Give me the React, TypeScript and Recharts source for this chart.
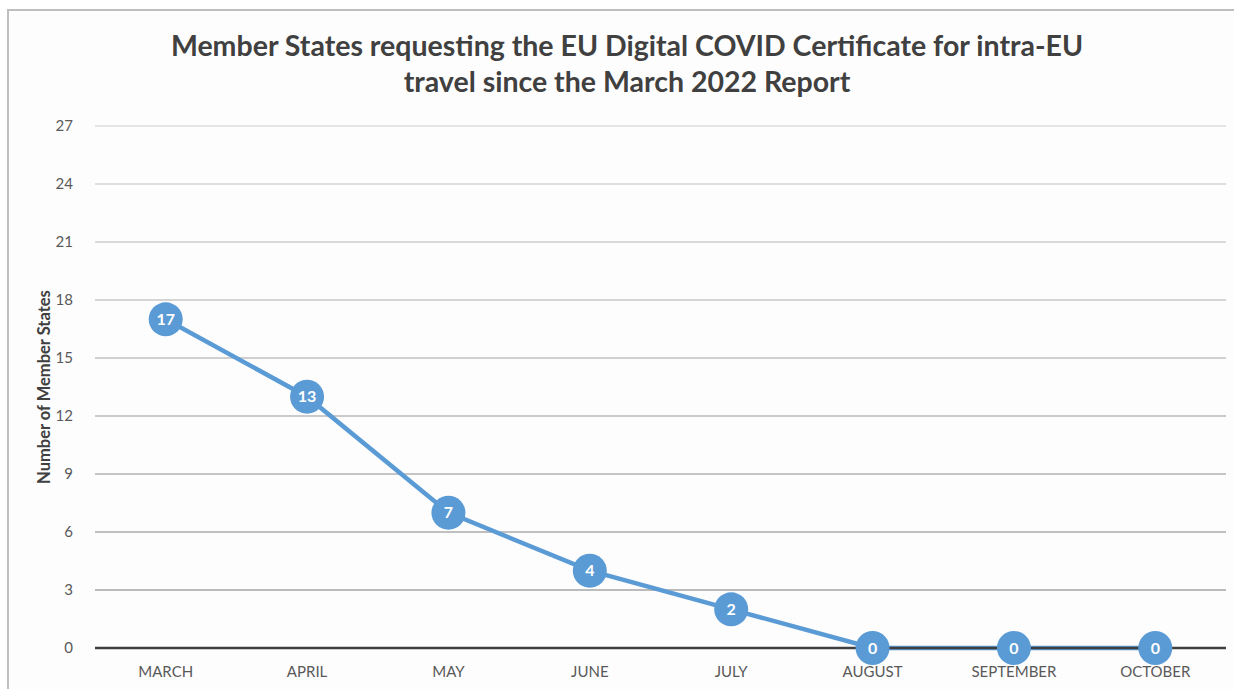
import { LineChart, Line, XAxis, YAxis, CartesianGrid, LabelList } from "recharts"

const months = ["MARCH", "APRIL", "MAY", "JUNE", "JULY", "AUGUST", "SEPTEMBER", "OCTOBER"]
const memberStates = [17, 13, 7, 4, 2, 0, 0, 0]
const yTicks = [0, 3, 6, 9, 12, 15, 18, 21, 24, 27]

const data = months.map((month, i) => ({ month, states: memberStates[i] }))

const FONT = "Lato, 'Open Sans', sans-serif"
const BLUE = "#5b9bd5"

function Marker(props: any) {
  const { cx, cy } = props
  if (cx == null || cy == null) return null
  return <circle cx={cx} cy={cy} r={17} fill={BLUE} />
}

// gridlines fade from light at the top to darker near the baseline
function GridLine(props: any) {
  const { x1, x2, y1, y2, key } = props
  const t = Math.min(1, Math.max(0, (y1 - 126) / 464))
  const g = Math.round(0xdc - t * (0xdc - 0xa4))
  return <line key={key} x1={x1} x2={x2} y1={y1} y2={y2} stroke={`rgb(${g},${g},${g})`} strokeWidth={1.5} />
}

export default function App() {
  return (
    <div style={{ position: "relative", width: 1234, height: 689, overflow: "hidden", background: "#fff" }}>
      <style>{`body{margin:0;overflow:hidden}`}</style>
      <div
        style={{
          position: "absolute",
          left: 7,
          top: 9,
          width: 1260,
          height: 720,
          border: "2px solid #bfbfbf",
          background: "#fdfdfd",
        }}
      />
      <div
        style={{
          position: "absolute",
          left: 0,
          top: 27,
          width: 1254,
          textAlign: "center",
          fontFamily: FONT,
          fontWeight: 700,
          fontSize: 28.5,
          lineHeight: "36px",
          color: "#404040",
        }}
      >
        Member States requesting the EU Digital COVID Certificate for intra-EU
        <br />
        travel since the March 2022 Report
      </div>
      <div style={{ position: "absolute", left: 0, top: 0 }}>
        <LineChart width={1234} height={689} data={data} margin={{ top: 126, right: 8, bottom: 11, left: 0 }}>
          <CartesianGrid vertical={false} horizontal={(p: any) => <GridLine {...p} />} />
          <XAxis
            dataKey="month"
            height={30}
            padding={{ left: 70.7, right: 70.7 }}
            tickLine={false}
            axisLine={{ stroke: "#404040", strokeWidth: 2.5 }}
            tickMargin={12}
            tick={{ fill: "#595959", fontSize: 15, fontFamily: FONT }}
          />
          <YAxis
            width={95}
            domain={[0, 27]}
            ticks={yTicks}
            interval={0}
            axisLine={false}
            tickLine={false}
            tickMargin={16}
            tick={{ fill: "#595959", fontSize: 15, fontFamily: FONT }}
            label={{
              value: "Number of Member States",
              angle: -90,
              position: "insideLeft",
              offset: 0,
              dx: 44,
              style: { textAnchor: "middle", fill: "#404040", fontSize: 16.5, fontWeight: 700, fontFamily: FONT },
            }}
          />
          <Line
            type="linear"
            dataKey="states"
            stroke={BLUE}
            strokeWidth={4.5}
            dot={<Marker />}
            activeDot={false}
            isAnimationActive={false}
          >
            <LabelList
              dataKey="states"
              position="center"
              fill="#ffffff"
              style={{ fontFamily: FONT, fontWeight: 700, fontSize: 16 }}
            />
          </Line>
        </LineChart>
      </div>
    </div>
  )
}
